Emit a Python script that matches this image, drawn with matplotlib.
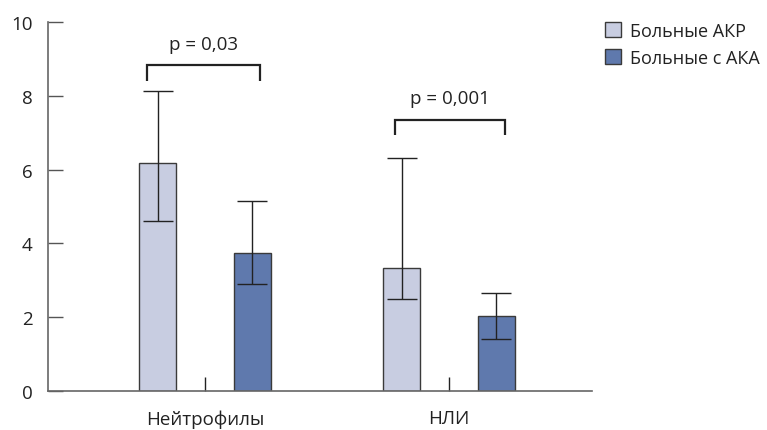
import matplotlib
matplotlib.use("Agg")
import matplotlib.pyplot as plt
from matplotlib.patches import Patch
import numpy as np

plt.rcParams['font.family'] = ['Open Sans', 'DejaVu Sans']

categories = ["Нейтрофилы", "НЛИ"]
series_names = ["Больные АКР", "Больные с АКА"]
values_akr = [6.18, 3.33]
err_low_akr = [4.61, 2.49]
err_high_akr = [8.12, 6.3]
values_aka = [3.73, 2.03]
err_low_aka = [2.90, 1.42]
err_high_aka = [5.15, 2.65]
p_labels = ["p = 0,03", "p = 0,001"]
p_text_y = [9.39, 7.93]
bracket_top = [8.84, 7.34]
bracket_bottom = [8.40, 6.93]
yticks = [0, 2, 4, 6, 8, 10]

col_light = "#c8cde1"
col_dark = "#5f79ad"
edge = "#3a3a3a"

fig = plt.figure(figsize=(7.67, 4.31), dpi=100)
ax = fig.add_axes([48/767, 1-392.3/431, (592-48)/767, (392.3-22.7)/431])

x = np.arange(len(categories))
off = 0.193
w = 0.152

ax.bar(x - off, values_akr, w, color=col_light, edgecolor=edge, linewidth=1.0, label=series_names[0], zorder=2)
ax.bar(x + off, values_aka, w, color=col_dark, edgecolor=edge, linewidth=1.0, label=series_names[1], zorder=2)

def err(vals, lo, hi):
    v = np.array(vals); return np.vstack([v - np.array(lo), np.array(hi) - v])

ax.errorbar(x - off, values_akr, yerr=err(values_akr, err_low_akr, err_high_akr), fmt='none',
            ecolor="#222222", elinewidth=1.0, capsize=11, capthick=1.0, zorder=3)
ax.errorbar(x + off, values_aka, yerr=err(values_aka, err_low_aka, err_high_aka), fmt='none',
            ecolor="#222222", elinewidth=1.0, capsize=11, capthick=1.0, zorder=3)

bx_l = [-0.236, 0.777]
bx_r = [0.227, 1.230]
for i in range(len(categories)):
    ax.plot([bx_l[i], bx_l[i], bx_r[i], bx_r[i]],
            [bracket_bottom[i], bracket_top[i], bracket_top[i], bracket_bottom[i]],
            color="#222222", linewidth=1.6, solid_capstyle='butt', solid_joinstyle='miter', zorder=3)
    ax.text((bx_l[i] + bx_r[i]) / 2, p_text_y[i], p_labels[i], ha='center', va='center',
            fontsize=13.5, color="#222222")

ax.set_xlim((48-205)/244, (592-205)/244)
ax.set_ylim(0, 10)
ax.set_yticks(yticks)
ax.set_yticklabels([str(t) for t in yticks])
ax.set_xticks(x)
ax.set_xticklabels(categories)

for s in ['top', 'right']:
    ax.spines[s].set_visible(False)
for s in ['left', 'bottom']:
    ax.spines[s].set_color("#666666")
    ax.spines[s].set_linewidth(1.2)

ax.tick_params(axis='y', direction='in', length=11, width=1.0, color="#555555", pad=11,
               labelsize=13.5, labelcolor="#222222")
ax.tick_params(axis='x', direction='in', length=10, width=1.0, color="#222222", pad=13,
               labelsize=13.5, labelcolor="#222222")

handles = [Patch(facecolor=col_light, edgecolor=edge, linewidth=1.0),
           Patch(facecolor=col_dark, edgecolor=edge, linewidth=1.0)]
fig.legend(handles, series_names, loc='upper left', bbox_to_anchor=(592/767, 1-10/431),
           frameon=False, fontsize=13, handlelength=0.88, handleheight=0.88,
           handletextpad=0.55, labelspacing=0.5, borderpad=0.2, labelcolor="#222222")

fig.savefig("out.png", dpi=100)
